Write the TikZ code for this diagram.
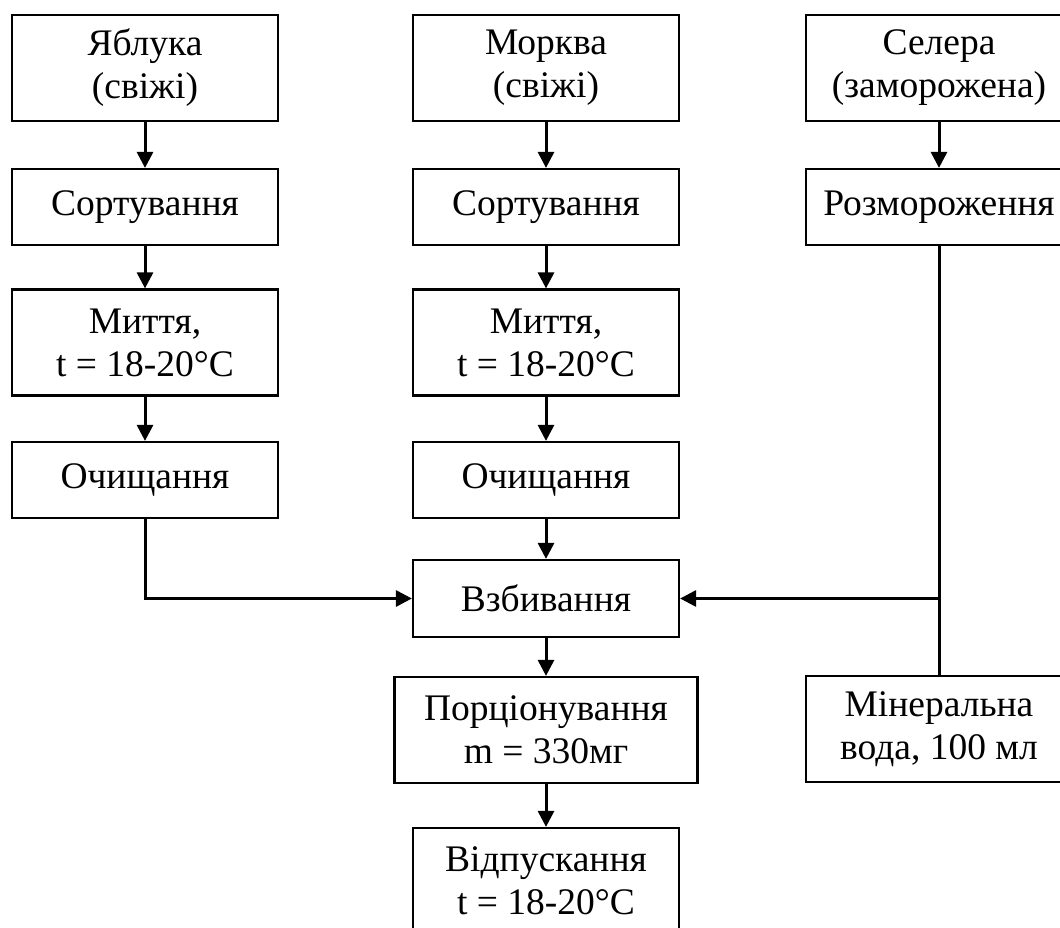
\documentclass[tikz,border=0pt]{standalone}
\usepackage{fontspec}
\setmainfont{Liberation Serif}
\usetikzlibrary{arrows.meta}
\begin{document}
\begin{tikzpicture}[x=1pt,y=-1pt,
  box/.style={draw, line width=2.2pt, align=center, inner sep=0pt, minimum width=266pt, font=\fontsize{37.5}{43}\selectfont},
  h1/.style={minimum height=106pt},
  h2/.style={minimum height=76pt},
  flow/.style={line width=3pt, -{Triangle[length=16pt,width=16pt]}},
  link/.style={line width=3pt}]
\useasboundingbox (0,0) rectangle (1060,928);
\clip (0,0) rectangle (1060,928);
% column 1
\node[box,h1] (a1) at (145,68) {Яблука\\(свіжі)};
\node[box,h2] (a2) at (145,207) {Сортування};
\node[box,h1] (a3) at (145,342.5) {Миття,\\t = 18-20°C};
\node[box,h2] (a4) at (145,480) {Очищання};
% column 2
\node[box,h1] (b1) at (546,68) {Морква\\(свіжі)};
\node[box,h2] (b2) at (546,207) {Сортування};
\node[box,h1] (b3) at (546,342.5) {Миття,\\t = 18-20°C};
\node[box,h2] (b4) at (546,480) {Очищання};
\node[box,minimum height=77pt] (mix) at (546,598.5) {Взбивання};
\node[box,h1,minimum width=303pt] (por) at (546,730) {Порціонування\\m = 330мг};
\node[box,h1] (vid) at (546,881) {Відпускання\\t = 18-20°C};
% column 3
\node[box,h1] (c1) at (939,68) {Селера\\(заморожена)};
\node[box,h2] (c2) at (939,207) {Розмороження};
\node[box,h1] (mw) at (939,729) {Мінеральна\\вода, 100 мл};
% connectors
\draw[flow] (a1) -- (a2);
\draw[flow] (a2) -- (a3);
\draw[flow] (a3) -- (a4);
\draw[flow] (a4.south) |- (mix.west);
\draw[flow] (b1) -- (b2);
\draw[flow] (b2) -- (b3);
\draw[flow] (b3) -- (b4);
\draw[flow] (b4) -- (mix);
\draw[flow] (c1) -- (c2);
\draw[link] (c2.south) -- (mw.north);
\coordinate (j) at (c2.south |- mix.east);
\draw[flow] (j) -- (mix.east);
\draw[flow] (mix) -- (por);
\draw[flow] (por) -- (vid);
\end{tikzpicture}
\end{document}
